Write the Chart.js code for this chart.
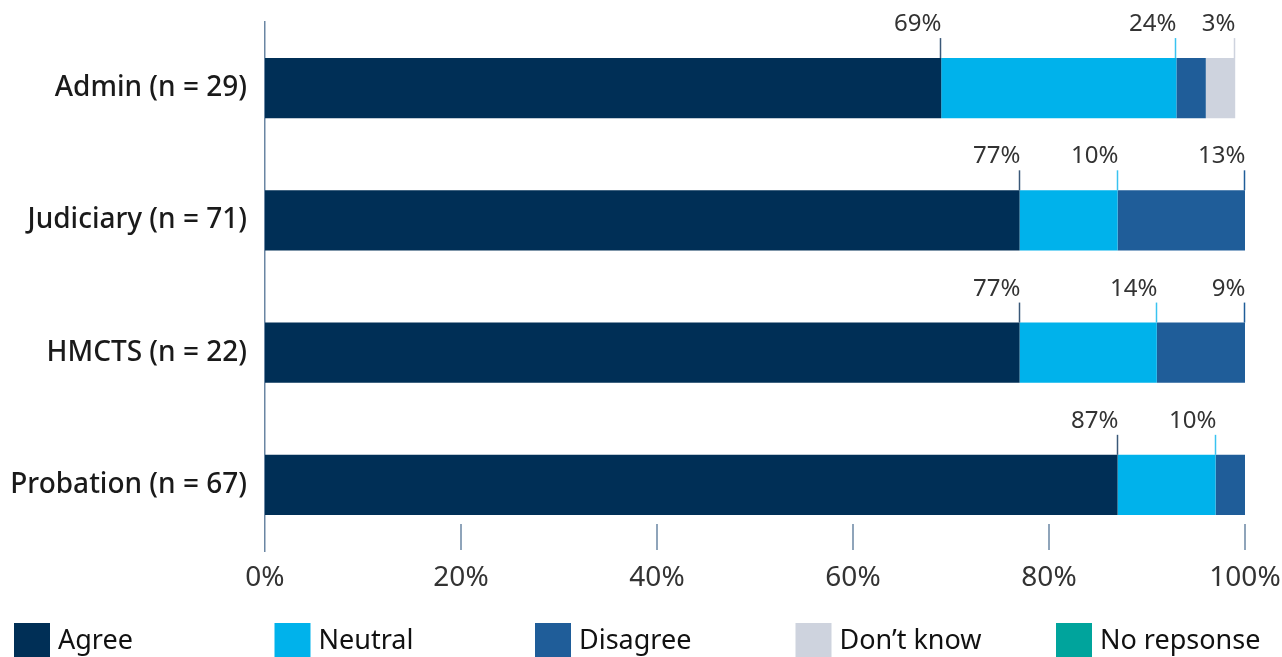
<!DOCTYPE html>
<html>
<head>
<meta charset="utf-8">
<script src="https://cdn.jsdelivr.net/npm/chart.js@4"></script>
<style>
  html, body { margin: 0; padding: 0; background: #fff; }
  #wrap { width: 1282px; height: 657px; position: relative; }
</style>
</head>
<body>
<div id="wrap"><canvas id="chart"></canvas></div>
<script>
// data
var categories = ['Admin (n = 29)', 'Judiciary (n = 71)', 'HMCTS (n = 22)', 'Probation (n = 67)'];
var seriesNames = ['Agree', 'Neutral', 'Disagree', 'Don\u2019t know', 'No repsonse'];
var agree = [69, 77, 77, 87];
var neutral = [24, 10, 14, 10];
var disagree = [3, 13, 9, 3];
var dontKnow = [3, 0, 0, 0];
var noResponse = [0, 0, 0, 0];
// which segments carry a % callout above the bar
var disagreeLabelled = [false, true, true, false];
var xTicks = [0, 20, 40, 60, 80, 100];

var colors = ['#002f56', '#00b2eb', '#1f5d99', '#ced3de', '#00a49c'];
var leaderColors = ['#3a5878', '#39c3f0', '#1f5d99', '#ced3de', '#00a49c'];
var font = '"Noto Sans", "Open Sans", sans-serif';

var values = [agree, neutral, disagree, dontKnow, noResponse];
var datasets = values.map(function (v, i) {
    return {
        label: seriesNames[i],
        data: v,
        backgroundColor: colors[i],
        borderWidth: 0,
        barPercentage: 1,
        categoryPercentage: 60 / 132,
        showLabel: v.map(function (d, j) {
            if (d <= 0) return false;
            if (i === 2) return disagreeLabelled[j];
            return true;
        })
    };
});

var callouts = {
    id: 'callouts',
    afterDatasetsDraw: function (chart) {
        var ctx = chart.ctx;
        ctx.save();
        chart.data.datasets.forEach(function (ds, i) {
            var meta = chart.getDatasetMeta(i);
            meta.data.forEach(function (bar, j) {
                if (!ds.showLabel[j]) return;
                var top = bar.y - bar.height / 2;
                var x = Math.round(bar.x) - 0.5;
                ctx.strokeStyle = leaderColors[i];
                ctx.lineWidth = 1.5;
                ctx.beginPath();
                ctx.moveTo(x, top);
                ctx.lineTo(x, top - 20);
                ctx.stroke();
                ctx.fillStyle = '#333';
                ctx.font = '24px ' + font;
                ctx.textAlign = 'right';
                ctx.textBaseline = 'alphabetic';
                ctx.fillText(ds.data[j] + '%', x + 1, top - 27);
            });
        });
        ctx.restore();
    }
};

var xTickMarks = {
    id: 'xTickMarks',
    afterDraw: function (chart) {
        var ctx = chart.ctx;
        var xs = chart.scales.x;
        var bottom = chart.chartArea.bottom;
        ctx.save();
        ctx.strokeStyle = '#6a86a3';
        ctx.lineWidth = 1.5;
        xTicks.forEach(function (t) {
            if (t === 0) return;
            var x = Math.round(xs.getPixelForValue(t));
            ctx.beginPath();
            ctx.moveTo(x, bottom - 27);
            ctx.lineTo(x, bottom - 1);
            ctx.stroke();
        });
        ctx.restore();
    }
};

var bottomLegend = {
    id: 'bottomLegend',
    afterDraw: function (chart) {
        var ctx = chart.ctx;
        ctx.save();
        ctx.font = '27px ' + font;
        ctx.textAlign = 'left';
        ctx.textBaseline = 'middle';
        seriesNames.forEach(function (name, i) {
            var x = 14 + i * 260.5;
            ctx.fillStyle = colors[i];
            ctx.fillRect(x, 623, 36, 40);
            ctx.fillStyle = '#111';
            ctx.fillText(name, x + 44, 641);
        });
        ctx.restore();
    }
};

var chart = new Chart(document.getElementById('chart'), {
    type: 'bar',
    data: { labels: categories, datasets: datasets },
    plugins: [callouts, xTickMarks, bottomLegend],
    options: {
        indexAxis: 'y',
        responsive: true,
        maintainAspectRatio: false,
        animation: false,
        layout: { padding: { top: 22, right: 37, left: 0, bottom: 0 } },
        plugins: {
            legend: { display: false },
            tooltip: { enabled: false }
        },
        scales: {
            x: {
                stacked: true,
                min: 0,
                max: 100,
                afterBuildTicks: function (scale) {
                    scale.ticks = xTicks.map(function (v) { return { value: v }; });
                },
                afterFit: function (scale) {
                    scale.height = 106;
                    scale.paddingLeft = 0;
                    scale.paddingRight = 0;
                },
                grid: { display: false, drawTicks: false },
                border: { display: false },
                ticks: {
                    padding: 10,
                    color: '#333',
                    font: { family: font, size: 28 },
                    callback: function (v) { return v + '%'; }
                }
            },
            y: {
                stacked: true,
                afterFit: function (scale) {
                    scale.width = 265;
                    scale.paddingTop = 0;
                    scale.paddingBottom = 0;
                },
                grid: { display: false, drawTicks: false },
                border: { display: true, color: '#6a86a3', width: 1.5 },
                ticks: {
                    padding: 18,
                    color: '#1a1a1a',
                    font: { family: font, size: 28, weight: '500' }
                }
            }
        }
    }
});
</script>
</body>
</html>
